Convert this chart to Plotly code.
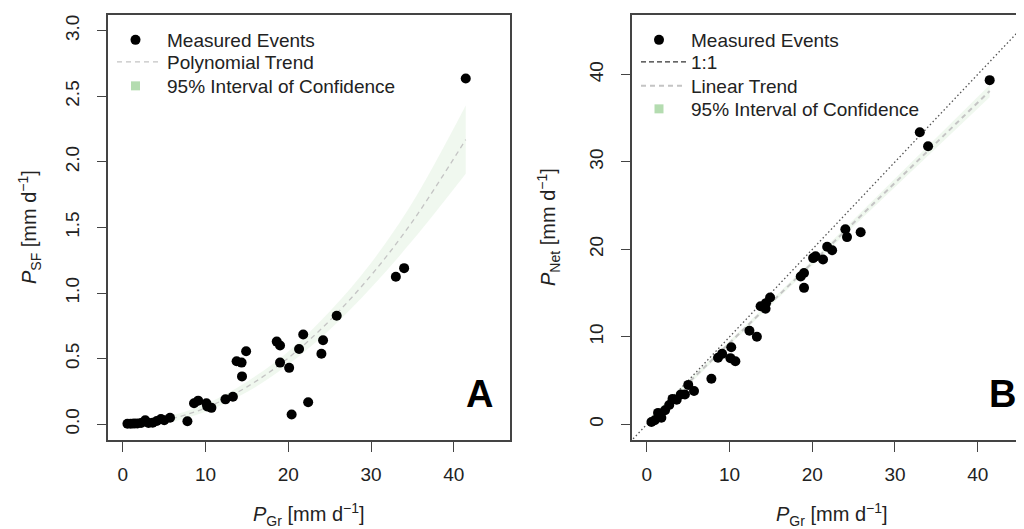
import plotly.graph_objects as go

# ---------------- data ----------------
p_gr = [0.55, 0.95, 1.35, 1.75, 2.2, 2.7, 3.1, 3.6, 4.1, 4.6, 5.0, 5.7,
        7.8, 8.6, 9.1, 10.1, 10.2, 10.7, 12.4, 13.3, 13.75, 14.35, 14.4, 14.9,
        18.6, 19.0, 19.0, 20.1, 20.4, 21.3, 21.8, 22.4, 24.0, 24.2, 25.85,
        33.0, 34.0, 41.45]
p_sf = [0.004, 0.004, 0.005, 0.006, 0.01, 0.03, 0.01, 0.012, 0.025, 0.04, 0.03, 0.05,
        0.023, 0.16, 0.18, 0.16, 0.135, 0.125, 0.19, 0.21, 0.48, 0.47, 0.365, 0.556,
        0.63, 0.60, 0.47, 0.43, 0.074, 0.574, 0.684, 0.168, 0.538, 0.64, 0.827,
        1.125, 1.19, 2.636]
p_net = [0.25, 0.45, 1.3, 0.75, 1.6, 2.2, 2.9, 2.8, 3.4, 3.4, 4.5, 3.8,
         5.2, 7.6, 8.05, 7.56, 8.8, 7.2, 10.7, 10.0, 13.5, 13.2, 13.85, 14.5,
         16.9, 17.3, 15.6, 19.0, 19.2, 18.85, 20.3, 19.9, 22.3, 21.4, 21.95,
         33.4, 31.8, 39.35]

# polynomial trend (panel A) and its 95% confidence band
poly_x = [0.55, 5, 10, 15, 20, 25, 30, 35, 41.45]
poly_y = [0.0, 0.03, 0.125, 0.285, 0.505, 0.79, 1.135, 1.545, 2.17]
poly_lo = [-0.03, 0.005, 0.095, 0.245, 0.455, 0.72, 1.04, 1.40, 1.91]
poly_hi = [0.03, 0.055, 0.155, 0.325, 0.555, 0.86, 1.23, 1.69, 2.43]

# linear trend (panel B) and its 95% confidence band
lin_x = [0.55, 10, 20, 30, 41.45]
lin_y = [0.65, 9.3, 18.45, 27.6, 38.1]
lin_lo = [0.3, 9.05, 18.15, 27.15, 37.4]
lin_hi = [1.0, 9.55, 18.75, 28.05, 38.8]

# 1:1 reference line
one_x = [-2, 50]
one_y = [-2, 50]

xticks = [0, 10, 20, 30, 40]
yticks_a = [0.0, 0.5, 1.0, 1.5, 2.0, 2.5, 3.0]
yticks_b = [0, 10, 20, 30, 40]

FONT = "Liberation Sans, Arial, sans-serif"
# the page body keeps its default 8px margin, so the figure is 8px smaller
OFF = 8
W, H = 1024 - OFF, 529 - OFF


def px(X):
    return (X - OFF) / W


def py(Y):
    return (H - (Y - OFF)) / H


BAND = "rgba(140,200,130,0.13)"
LEGSQ = "#b4dcb0"
TXT = "#222222"

fig = go.Figure()

# ---------- panel A ----------
fig.add_trace(go.Scatter(x=poly_x, y=poly_lo, mode="lines", line=dict(width=0),
                         line_shape="spline", showlegend=False, hoverinfo="skip",
                         xaxis="x", yaxis="y"))
fig.add_trace(go.Scatter(x=poly_x, y=poly_hi, mode="lines", line=dict(width=0),
                         line_shape="spline", fill="tonexty", fillcolor=BAND,
                         showlegend=False, hoverinfo="skip", xaxis="x", yaxis="y"))
fig.add_trace(go.Scatter(x=poly_x, y=poly_y, mode="lines", name="Polynomial Trend",
                         line=dict(color="#c4c4c4", width=1.3, dash="5px,4px"),
                         line_shape="spline", legend="legend2",
                         xaxis="x", yaxis="y"))
fig.add_trace(go.Scatter(x=p_gr, y=p_sf, mode="markers", name="Measured Events",
                         marker=dict(color="black", size=10), legend="legend",
                         xaxis="x", yaxis="y"))
fig.add_trace(go.Scatter(x=[None], y=[None], mode="markers",
                         name="95% Interval of Confidence",
                         marker=dict(color=LEGSQ, size=9, symbol="square"),
                         legend="legend3", xaxis="x", yaxis="y"))

# ---------- panel B ----------
fig.add_trace(go.Scatter(x=lin_x, y=lin_lo, mode="lines", line=dict(width=0),
                         showlegend=False, hoverinfo="skip", xaxis="x2", yaxis="y2"))
fig.add_trace(go.Scatter(x=lin_x, y=lin_hi, mode="lines", line=dict(width=0),
                         fill="tonexty", fillcolor=BAND,
                         showlegend=False, hoverinfo="skip", xaxis="x2", yaxis="y2"))
fig.add_trace(go.Scatter(x=one_x, y=one_y, mode="lines", showlegend=False,
                         line=dict(color="#555555", width=1.3, dash="1.5px,2.5px"),
                         hoverinfo="skip", xaxis="x2", yaxis="y2"))
fig.add_trace(go.Scatter(x=lin_x, y=lin_y, mode="lines", name="Linear Trend",
                         line=dict(color="#c4c4c4", width=2, dash="5px,4px"),
                         legend="legend6", xaxis="x2", yaxis="y2"))
fig.add_trace(go.Scatter(x=p_gr, y=p_net, mode="markers", name="Measured Events",
                         marker=dict(color="black", size=10), legend="legend4",
                         xaxis="x2", yaxis="y2"))
fig.add_trace(go.Scatter(x=[None], y=[None], mode="lines", name="1:1",
                         line=dict(color="#333333", width=1.3, dash="5px,3px"),
                         legend="legend5", xaxis="x2", yaxis="y2"))
fig.add_trace(go.Scatter(x=[None], y=[None], mode="markers",
                         name="95% Interval of Confidence",
                         marker=dict(color=LEGSQ, size=9, symbol="square"),
                         legend="legend7", xaxis="x2", yaxis="y2"))

LINE = "#444444"
common_x = dict(tickvals=xticks, ticks="outside", ticklen=10, tickwidth=1.3,
                tickcolor=LINE, showline=True, linecolor=LINE, linewidth=1.5,
                mirror=True, showgrid=False, zeroline=False,
                tickfont=dict(family=FONT, size=19, color=TXT),
                ticklabelstandoff=6, automargin=False)
common_y = dict(ticks="outside", ticklen=9, tickwidth=1.3, tickcolor=LINE,
                showline=True, linecolor=LINE, linewidth=1.5,
                showgrid=False, zeroline=False, tickangle=-90,
                tickfont=dict(family=FONT, size=19, color=TXT),
                ticklabelstandoff=11, automargin=False)

ydom = [py(440), py(15)]


def leg(xpage, ypage, iw):
    return dict(x=px(xpage), y=py(ypage), xanchor="left", yanchor="middle",
                bgcolor="rgba(0,0,0,0)", itemwidth=iw, traceorder="normal",
                font=dict(family=FONT, size=19, color=TXT))


fig.update_layout(
    width=W, height=H,
    margin=dict(l=0, r=0, t=0, b=0),
    paper_bgcolor="white", plot_bgcolor="white",
    font=dict(family=FONT, size=19, color=TXT),
    xaxis=dict(domain=[px(108), px(510)], range=[-1.8, 46.8], anchor="y", **common_x),
    yaxis=dict(domain=ydom, range=[-0.12, 3.12], anchor="x", tickvals=yticks_a,
               tickformat=".1f", mirror=True, **common_y),
    xaxis2=dict(domain=[px(632), 1.0], range=[-1.8, 45.6], anchor="y2", **common_x),
    yaxis2=dict(domain=ydom, range=[-1.8, 46.8], anchor="x2", tickvals=yticks_b,
                mirror=False, **common_y),
    legend=leg(104, 40, 53),
    legend2=leg(112, 62, 45),
    legend3=leg(104, 86, 53),
    legend4=leg(627, 40, 54),
    legend5=leg(636, 62, 45),
    legend6=leg(636, 86, 45),
    legend7=leg(627, 109, 54),
    showlegend=True,
)

title_font = dict(family=FONT, size=20, color=TXT)
xtitle = "<i>P</i><sub>Gr</sub> [mm d<sup>−1</sup>]"
for xc in (309, 832):
    fig.add_annotation(x=px(xc), y=py(514), xref="paper", yref="paper",
                       xanchor="center", yanchor="middle",
                       text=xtitle, showarrow=False, font=title_font)
fig.add_annotation(x=px(29), y=py(227), xref="paper", yref="paper",
                   xanchor="center", yanchor="middle",
                   text="<i>P</i><sub>SF</sub> [mm d<sup>−1</sup>]", textangle=-90,
                   showarrow=False, font=title_font)
fig.add_annotation(x=px(548), y=py(227), xref="paper", yref="paper",
                   xanchor="center", yanchor="middle",
                   text="<i>P</i><sub>Net</sub> [mm d<sup>−1</sup>]", textangle=-90,
                   showarrow=False, font=title_font)

letter_font = dict(family=FONT, size=38, color="black")
fig.add_annotation(x=px(479), y=py(394), xref="paper", yref="paper",
                   xanchor="center", yanchor="middle",
                   text="<b>A</b>", showarrow=False, font=letter_font)
fig.add_annotation(x=px(1002), y=py(394), xref="paper", yref="paper",
                   xanchor="center", yanchor="middle",
                   text="<b>B</b>", showarrow=False, font=letter_font)

fig.write_html("out.html")
